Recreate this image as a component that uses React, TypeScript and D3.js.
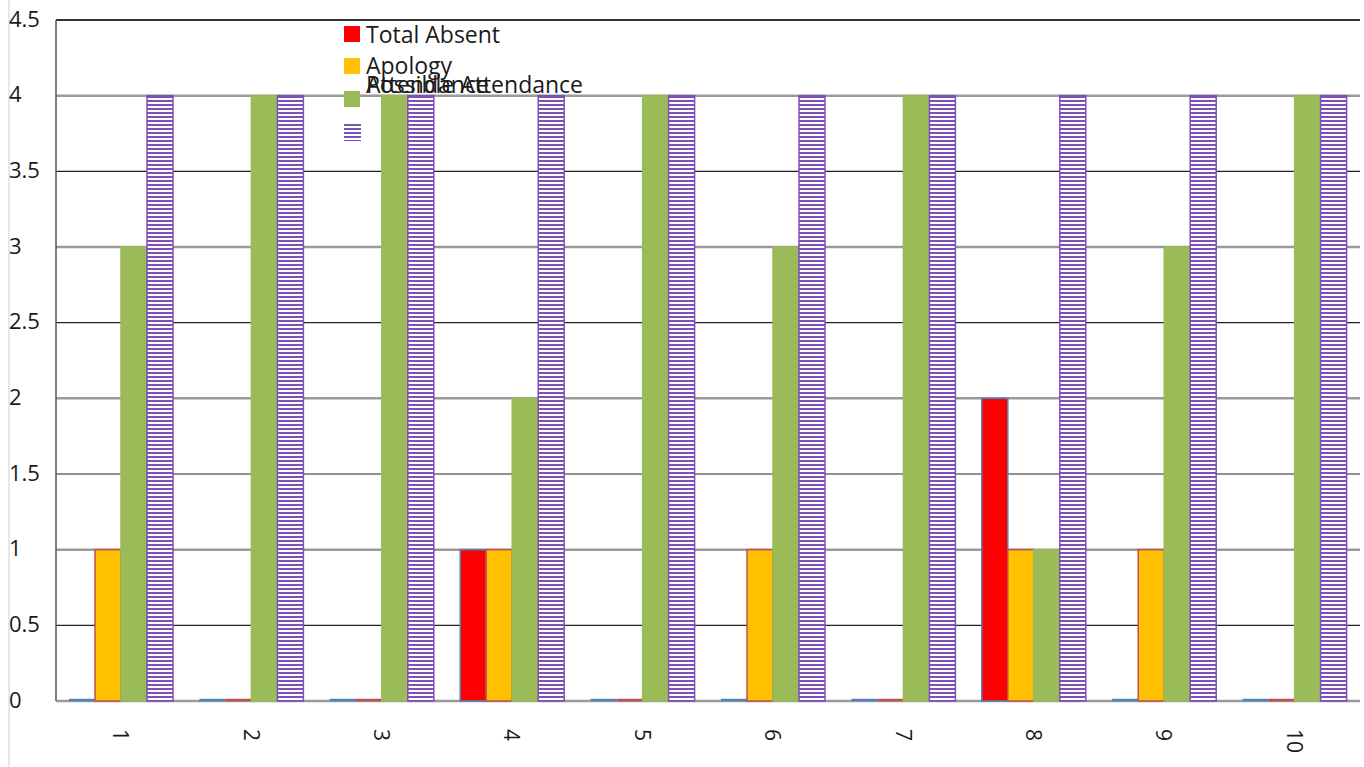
import React from "react";
import * as d3 from "d3";

const categories = ["1", "2", "3", "4", "5", "6", "7", "8", "9", "10"];
const totalAbsent = [0, 0, 0, 1, 0, 0, 0, 2, 0, 0];
const apology = [1, 0, 0, 1, 0, 1, 0, 1, 1, 0];
const attendance = [3, 4, 4, 2, 4, 3, 4, 1, 3, 4];
const possibleAttendance = [4, 4, 4, 4, 4, 4, 4, 4, 4, 4];
const yTicks = [0, 0.5, 1, 1.5, 2, 2.5, 3, 3.5, 4, 4.5];

const series = [
  { name: "Total Absent", values: totalAbsent, fill: "#FF0000", stroke: "#4F81BD" },
  { name: "Apology", values: apology, fill: "#FFC000", stroke: "#C0504D" },
  { name: "Attendance", values: attendance, fill: "#9BBB59", stroke: "#9BBB59" },
  { name: "Possible Attendance", values: possibleAttendance, fill: "url(#hatch)", stroke: "#7F4FB8" },
];

const W = 1364;
const H = 767;
const left = 56;
const right = 1360;
const top = 20;
const bottom = 701;
const font = "'Open Sans', sans-serif";

export default function App() {
  const x = d3.scaleBand<string>().domain(categories).range([left, right]).paddingInner(0).paddingOuter(0);
  const inner = d3.scaleBand<number>().domain([0, 1, 2, 3]).range([13, 117]);
  const y = d3.scaleLinear().domain([0, 4.5]).range([bottom, top]);

  return (
    <svg width={W} height={H} style={{ position: "absolute", left: 0, top: 0, background: "#fff" }}>
      <defs>
        <pattern id="hatch" patternUnits="userSpaceOnUse" width="6" height="4">
          <rect x="0" y="0" width="6" height="4" fill="#ffffff" />
          <rect x="0" y="0" width="6" height="2" fill="#7F4FB8" />
        </pattern>
      </defs>
      <rect x={0} y={0} width={W} height={H} fill="#fff" />
      <line x1={9} x2={9} y1={0} y2={H} stroke="#d0d0d0" strokeWidth={1} />
      {yTicks.map((t) => {
        const major = Number.isInteger(t);
        return (
          <line
            key={"g" + t}
            x1={left}
            x2={right}
            y1={y(t)}
            y2={y(t)}
            stroke={t === 4.5 ? "#333" : major ? "#9a9a9a" : "#222"}
            strokeWidth={t === 4.5 ? 2 : major ? 2.5 : 1.2}
          />
        );
      })}
      <line x1={left} x2={left} y1={top} y2={bottom} stroke="#555" strokeWidth={1.5} />
      {yTicks.map((t) => (
        <text key={"t" + t} x={9} y={y(t)} dy="0.3em" fontFamily={font} fontSize={22} fill="#1a1a1a">
          {t}
        </text>
      ))}
      {series.map((s, si) =>
        s.values.map((v, i) => {
          const bx = (x(categories[i]) as number) + (inner(si) as number);
          const bw = inner.bandwidth();
          const h = bottom - y(v);
          if (v === 0) {
            return (
              <line key={s.name + i} x1={bx} x2={bx + bw} y1={bottom - 1} y2={bottom - 1} stroke={s.stroke} strokeWidth={2.5} />
            );
          }
          return (
            <rect key={s.name + i} x={bx} y={y(v)} width={bw} height={h} fill={s.fill} stroke={s.stroke} strokeWidth={1.5} />
          );
        })
      )}
      {categories.map((c) => {
        const cx = (x(c) as number) + x.bandwidth() / 2;
        return (
          <text key={"x" + c} transform={`translate(${cx - 8},729) rotate(90)`} fontFamily={font} fontSize={21} fill="#1a1a1a">
            {c}
          </text>
        );
      })}
      {/* legend */}
      <rect x={344} y={26} width={16} height={16} fill="#FF0000" />
      <text x={366} y={35} dy="0.35em" fontFamily={font} fontSize={23} fill="#1a1a1a">Total Absent</text>
      <rect x={344} y={58} width={16} height={16} fill="#FFC000" />
      <text x={366} y={66} dy="0.35em" fontFamily={font} fontSize={23} fill="#1a1a1a">Apology</text>
      <rect x={344} y={91} width={16} height={16} fill="#9BBB59" />
      <text x={366} y={85} dy="0.35em" fontFamily={font} fontSize={23} fill="#1a1a1a">Possible Attendance</text>
      <text x={366} y={85} dy="0.35em" fontFamily={font} fontSize={23} fill="#1a1a1a">Attendance</text>
      <rect x={344} y={122} width={17} height={19} fill="url(#hatch)" />
    </svg>
  );
}
